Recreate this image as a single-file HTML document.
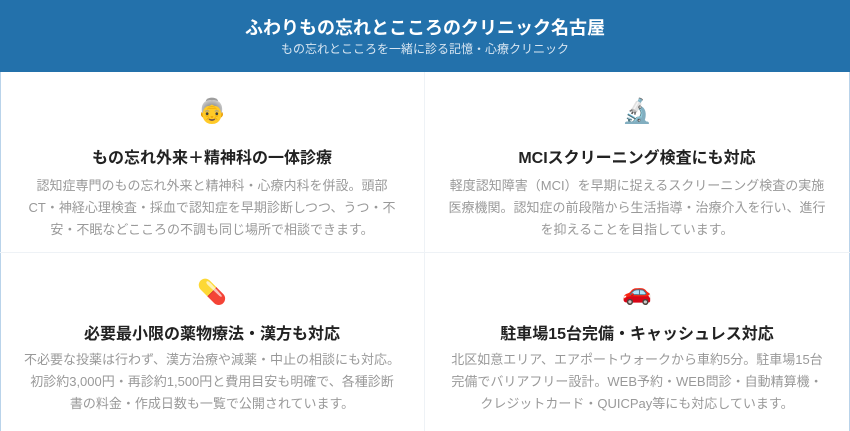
<!DOCTYPE html>
<html><head><meta charset="utf-8"><style>
*{margin:0;padding:0;box-sizing:border-box}
body{width:850px;height:431px;overflow:hidden;background:#fff;font-family:"Liberation Sans","Noto Sans CJK JP",sans-serif;}
.wrap{position:absolute;left:0;top:0;width:850px;height:431px;border-left:1px solid #b9d3ea;border-right:1px solid #b9d3ea;}
.hd{position:absolute;left:0;top:0;width:850px;height:72px;background:#2371ab;color:#fff;text-align:center;}
.hd h1{position:absolute;top:16px;width:100%;font-size:18px;font-weight:bold;line-height:24px;}
.hd p{position:absolute;top:41px;width:100%;font-size:12px;line-height:16px;color:#d8e6f2;}
.cell{position:absolute;width:424px;text-align:center;}
.ic{position:absolute;width:100%;font-size:24px;line-height:30px;}
.t{position:absolute;width:100%;font-size:16px;font-weight:bold;color:#222;line-height:22px;}
.b{position:absolute;left:20px;right:20px;font-size:13px;color:#999;line-height:22px;}
.vl{position:absolute;left:424px;top:72px;width:1px;height:359px;background:#eef2f6;}
.hl{position:absolute;left:0;top:252px;width:850px;height:1px;background:#eef2f6;}
</style></head><body>
<div class="wrap"></div>
<div class="hd"><h1>ふわりもの忘れとこころのクリニック名古屋</h1><p>もの忘れとこころを一緒に診る記憶・心療クリニック</p></div>
<div class="vl"></div><div class="hl"></div>
<div class="cell" style="left:0;top:72px">
<div class="ic" style="top:25px">👵</div>
<div class="t" style="top:76px">もの忘れ外来＋精神科の一体診療</div>
<div class="b" style="top:103px">認知症専門のもの忘れ外来と精神科・心療内科を併設。頭部<br>CT・神経心理検査・採血で認知症を早期診断しつつ、うつ・不<br>安・不眠などこころの不調も同じ場所で相談できます。</div>
</div>
<div class="cell" style="left:425px;top:72px">
<div class="ic" style="top:25px">🔬</div>
<div class="t" style="top:76px">MCIスクリーニング検査にも対応</div>
<div class="b" style="top:103px">軽度認知障害（MCI）を早期に捉えるスクリーニング検査の実施<br>医療機関。認知症の前段階から生活指導・治療介入を行い、進行<br>を抑えることを目指しています。</div>
</div>
<div class="cell" style="left:0;top:253px">
<div class="ic" style="top:25px">💊</div>
<div class="t" style="top:71px">必要最小限の薬物療法・漢方も対応</div>
<div class="b" style="top:96px">不必要な投薬は行わず、漢方治療や減薬・中止の相談にも対応。<br>初診約3,000円・再診約1,500円と費用目安も明確で、各種診断<br>書の料金・作成日数も一覧で公開されています。</div>
</div>
<div class="cell" style="left:425px;top:253px">
<div class="ic" style="top:25px">🚗</div>
<div class="t" style="top:71px">駐車場15台完備・キャッシュレス対応</div>
<div class="b" style="top:96px">北区如意エリア、エアポートウォークから車約5分。駐車場15台<br>完備でバリアフリー設計。WEB予約・WEB問診・自動精算機・<br>クレジットカード・QUICPay等にも対応しています。</div>
</div>
</body></html>
